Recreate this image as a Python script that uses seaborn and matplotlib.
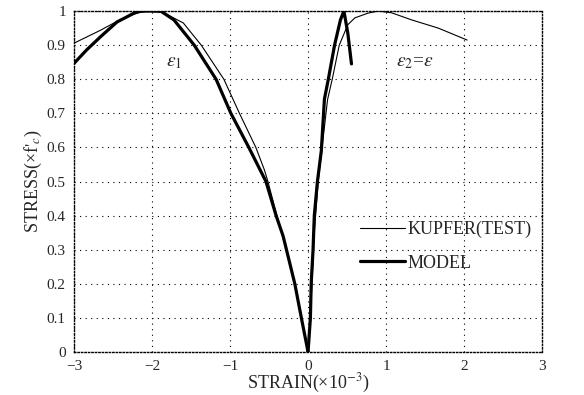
import pandas as pd
import matplotlib.pyplot as plt
import seaborn as sns

# dados (deformação x10^-3, tensão / f'c)
kupfer_e1_x = [-3.0, -2.66, -2.45, -2.2, -2.05, -1.85, -1.6, -1.37, -1.08, -0.88, -0.67, -0.56, -0.515, -0.40, -0.28, -0.17, -0.086, -0.02]
kupfer_e1_y = [0.906, 0.944, 0.970, 0.994, 1.0, 0.995, 0.965, 0.90, 0.80, 0.70, 0.60, 0.534, 0.50, 0.40, 0.30, 0.20, 0.10, 0.02]
kupfer_e2_x = [0.0, 0.03, 0.05, 0.08, 0.13, 0.19, 0.25, 0.31, 0.40, 0.51, 0.60, 0.77, 0.90, 1.07, 1.33, 1.67, 2.04]
kupfer_e2_y = [0.0, 0.10, 0.20, 0.35, 0.50, 0.62, 0.74, 0.80, 0.90, 0.96, 0.98, 0.994, 1.0, 0.995, 0.974, 0.95, 0.915]

model_e1_x = [-3.0, -2.84, -2.66, -2.45, -2.24, -2.15, -1.89, -1.72, -1.46, -1.18, -0.99, -0.76, -0.54, -0.41, -0.32, -0.17, -0.086, 0.0]
model_e1_y = [0.847, 0.886, 0.925, 0.968, 0.993, 1.0, 1.0, 0.974, 0.90, 0.80, 0.70, 0.60, 0.50, 0.40, 0.34, 0.20, 0.10, 0.0]
model_e2_x = [0.0, 0.03, 0.04, 0.064, 0.08, 0.12, 0.17, 0.21, 0.26, 0.34, 0.415, 0.46, 0.51, 0.557]
model_e2_y = [0.0, 0.10, 0.20, 0.30, 0.40, 0.50, 0.59, 0.742, 0.80, 0.90, 0.974, 1.0, 0.935, 0.845]

x_ticks = [-3, -2, -1, 0, 1, 2, 3]
x_tick_labels = ['\u22123', '\u22122', '\u22121', '0', '1', '2', '3']
y_ticks = [0, 0.1, 0.2, 0.3, 0.4, 0.5, 0.6, 0.7, 0.8, 0.9, 1.0]
y_tick_labels = ['0', '0.1', '0.2', '0.3', '0.4', '0.5', '0.6', '0.7', '0.8', '0.9', '1']

sns.set_style('white')
plt.rcParams['font.family'] = ['Liberation Serif', 'DejaVu Serif']
plt.rcParams['mathtext.fontset'] = 'stix'

fig = plt.figure(figsize=(5.84, 3.95), dpi=100)
ax = fig.add_axes([0.127, 0.109, 0.801, 0.863])

# KUPFER (ensaio) - linha fina
sns.lineplot(x=kupfer_e1_x, y=kupfer_e1_y, sort=False, estimator=None, color='black', linewidth=0.8, ax=ax, label='KUPFER(TEST)')
sns.lineplot(x=kupfer_e2_x, y=kupfer_e2_y, sort=False, estimator=None, color='black', linewidth=0.8, ax=ax)
# MODELO - linha grossa
sns.lineplot(x=model_e1_x, y=model_e1_y, sort=False, estimator=None, color='black', linewidth=2.3, ax=ax, label='MODEL')
sns.lineplot(x=model_e2_x, y=model_e2_y, sort=False, estimator=None, color='black', linewidth=2.3, ax=ax)

ax.set_xlim(-3, 3)
ax.set_ylim(0, 1)
ax.set_xticks(x_ticks)
ax.set_xticklabels(x_tick_labels)
ax.set_yticks(y_ticks)
ax.set_yticklabels(y_tick_labels)
ax.tick_params(axis='x', length=0, labelsize=11, pad=6)
ax.tick_params(axis='y', length=0, labelsize=11, pad=6)
ax.grid(True, color='black', linestyle=(0, (1, 4)), linewidth=0.8)

for s in ax.spines.values():
    s.set_linestyle((0, (1, 1.5)))
    s.set_linewidth(1.0)
    s.set_color('black')

ax.set_xlabel('STRAIN(\u00d710$^{-3}$)', fontsize=13, labelpad=-1)
ax.set_ylabel("STRESS(\u00d7f$'_c$)", fontsize=13, labelpad=2)

ax.text(-1.72, 0.85, r'$\varepsilon_1$', fontsize=14, ha='center', va='center')
ax.text(1.13, 0.85, r'$\varepsilon_2$=$\varepsilon$', fontsize=14, ha='left', va='center')

ax.legend(loc='center left', bbox_to_anchor=(0.611, 0.31), frameon=False, fontsize=13,
          handlelength=2.5, handletextpad=0.15, labelspacing=0.9, borderpad=0, borderaxespad=0)

plt.savefig('out.png', dpi=100)
